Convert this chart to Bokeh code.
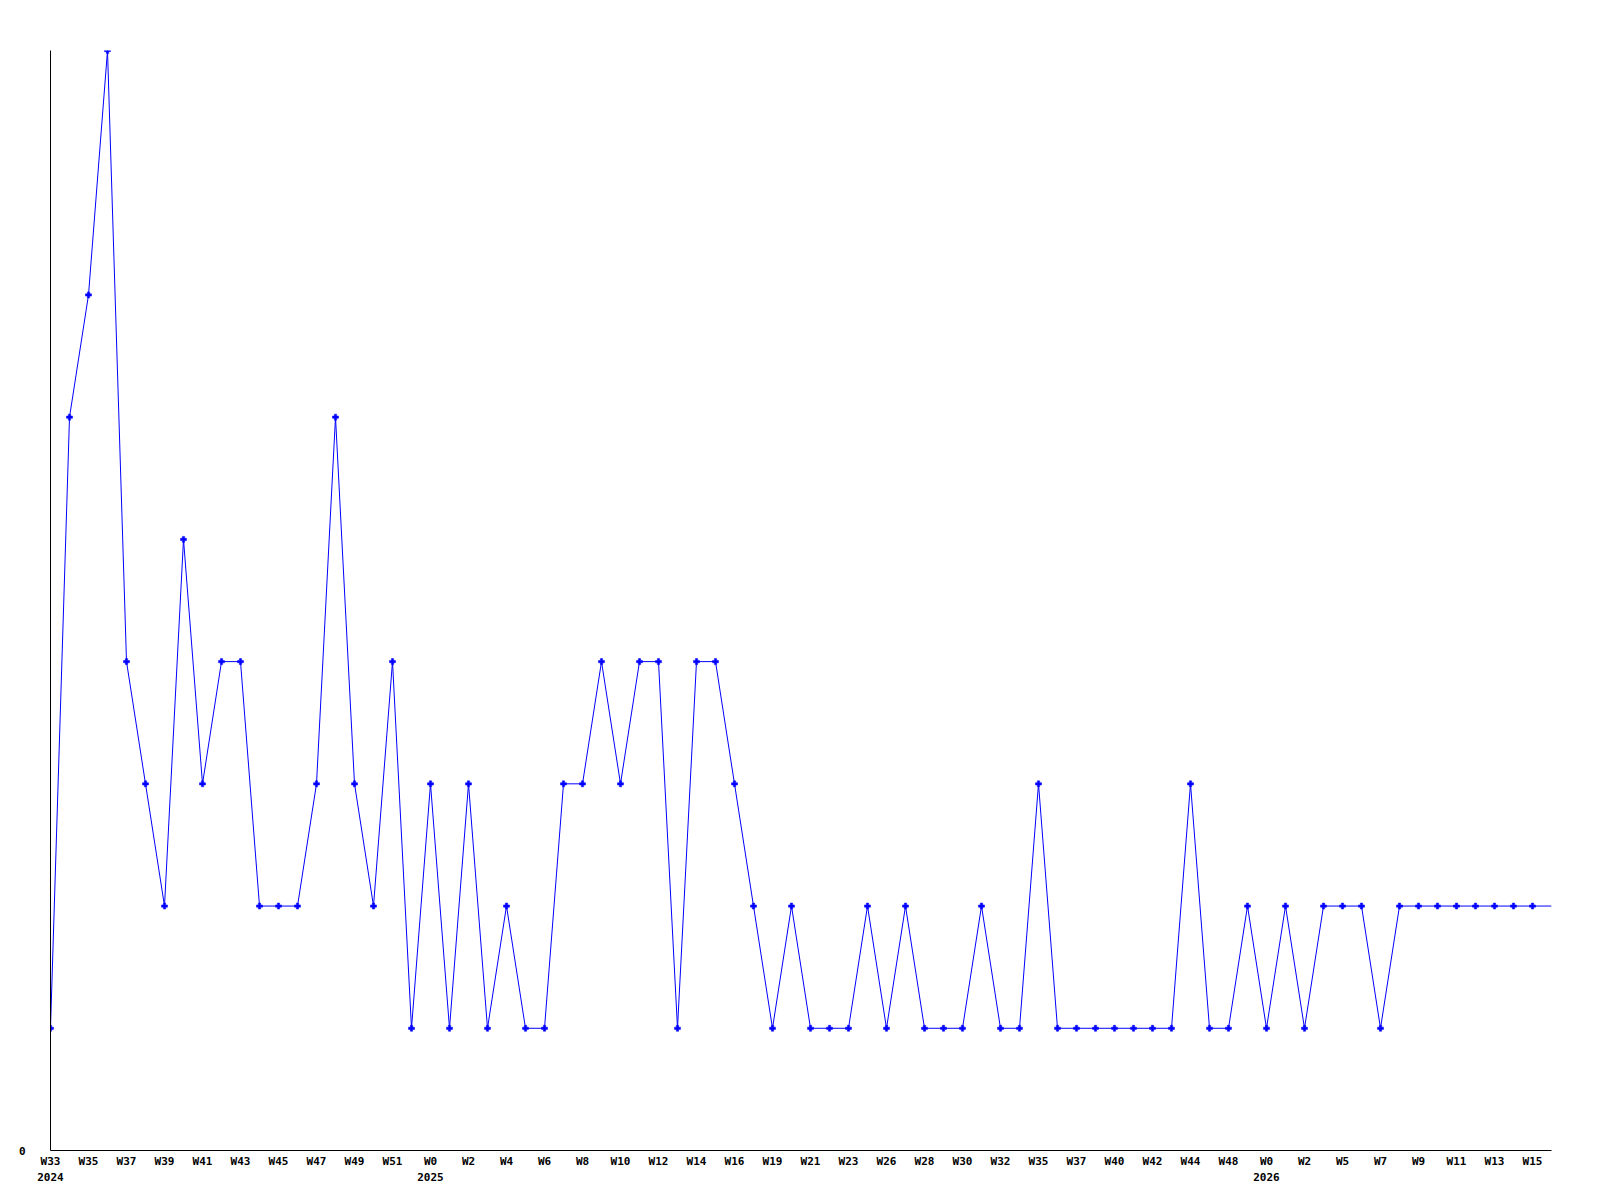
from bokeh.plotting import figure
from bokeh.models import Range1d, FixedTicker, LinearAxis, ColumnDataSource
from bokeh.embed import file_html
from bokeh.resources import INLINE

# ---- data ----
weeks = [
    "W33", "W34", "W35", "W36", "W37", "W38", "W39", "W40", "W41", "W42",
    "W43", "W44", "W45", "W46", "W47", "W48", "W49", "W50", "W51", "W52",
    "W0", "W1", "W2", "W3", "W4", "W5", "W6", "W7", "W8", "W9",
    "W10", "W11", "W12", "W13", "W14", "W15", "W16", "W18", "W19", "W20",
    "W21", "W22", "W23", "W24", "W26", "W27", "W28", "W29", "W30", "W31",
    "W32", "W34", "W35", "W36", "W37", "W38", "W40", "W41", "W42", "W43",
    "W44", "W46", "W48", "W50", "W0", "W1", "W2", "W4", "W5", "W6",
    "W7", "W8", "W9", "W10", "W11", "W12", "W13", "W14", "W15", "W16",
]
values = [
    1, 6, 7, 9, 4, 3, 2, 5, 3, 4,
    4, 2, 2, 2, 3, 6, 3, 2, 4, 1,
    3, 1, 3, 1, 2, 1, 1, 3, 3, 4,
    3, 4, 4, 1, 4, 4, 3, 2, 1, 2,
    1, 1, 1, 2, 1, 2, 1, 1, 1, 2,
    1, 1, 3, 1, 1, 1, 1, 1, 1, 1,
    3, 1, 1, 2, 1, 2, 1, 2, 2, 2,
    1, 2, 2, 2, 2, 2, 2, 2, 2, 2,
]
year_start_index = [0, 20, 64]
year_labels = ["2024", "2025", "2026"]
y_ticks = [0]

idx = list(range(len(values)))
label_ticks = idx[:-1:2]

FONT = "DejaVu Sans Mono"
FSIZE = "11px"

p = figure(
    width=1584, height=1190,
    output_backend="svg", toolbar_location=None,
    x_range=Range1d(0, len(values) - 1),
    y_range=Range1d(0, max(values)),
    min_border_left=50, min_border_right=33,
    min_border_top=50, min_border_bottom=40,
)
p.outline_line_color = None
p.xgrid.visible = False
p.ygrid.visible = False
p.background_fill_color = "white"
p.border_fill_color = "white"

src = ColumnDataSource(dict(x=idx, y=values))
p.line("x", "y", source=src, line_color="#0000ff", line_width=1)
msrc = ColumnDataSource(dict(x=idx[:-1], y=values[:-1]))
p.scatter("x", "y", source=msrc, marker="plus", size=6,
          fill_color="#0000ff", line_color="#0000ff", line_width=0.5)

# x axis (weeks)
xa = p.xaxis[0]
xa.ticker = FixedTicker(ticks=label_ticks)
xa.major_label_overrides = {i: weeks[i] for i in label_ticks}
xa.major_tick_out = 0
xa.major_tick_in = 0
xa.minor_tick_out = 0
xa.minor_tick_in = 0
xa.axis_line_color = "black"
xa.axis_line_width = 1
xa.major_label_standoff = 4
xa.major_label_text_font = FONT
xa.major_label_text_font_style = "bold"
xa.major_label_text_font_size = FSIZE
xa.major_label_text_color = "black"

# year axis
ya2 = LinearAxis(
    ticker=FixedTicker(ticks=year_start_index),
    major_label_overrides={i: y for i, y in zip(year_start_index, year_labels)},
)
ya2.axis_line_color = None
ya2.major_tick_out = 0
ya2.major_tick_in = 0
ya2.minor_tick_out = 0
ya2.minor_tick_in = 0
ya2.major_label_standoff = 2
ya2.major_label_text_font = FONT
ya2.major_label_text_font_style = "bold"
ya2.major_label_text_font_size = FSIZE
ya2.major_label_text_color = "black"
p.add_layout(ya2, "below")

# y axis
ya = p.yaxis[0]
ya.ticker = FixedTicker(ticks=y_ticks)
ya.major_tick_out = 0
ya.major_tick_in = 0
ya.minor_tick_out = 0
ya.minor_tick_in = 0
ya.axis_line_color = "black"
ya.axis_line_width = 1
ya.major_label_standoff = 25
ya.major_label_text_font = FONT
ya.major_label_text_font_style = "bold"
ya.major_label_text_font_size = FSIZE
ya.major_label_text_color = "black"

open("out.html", "w").write(file_html(p, INLINE))
